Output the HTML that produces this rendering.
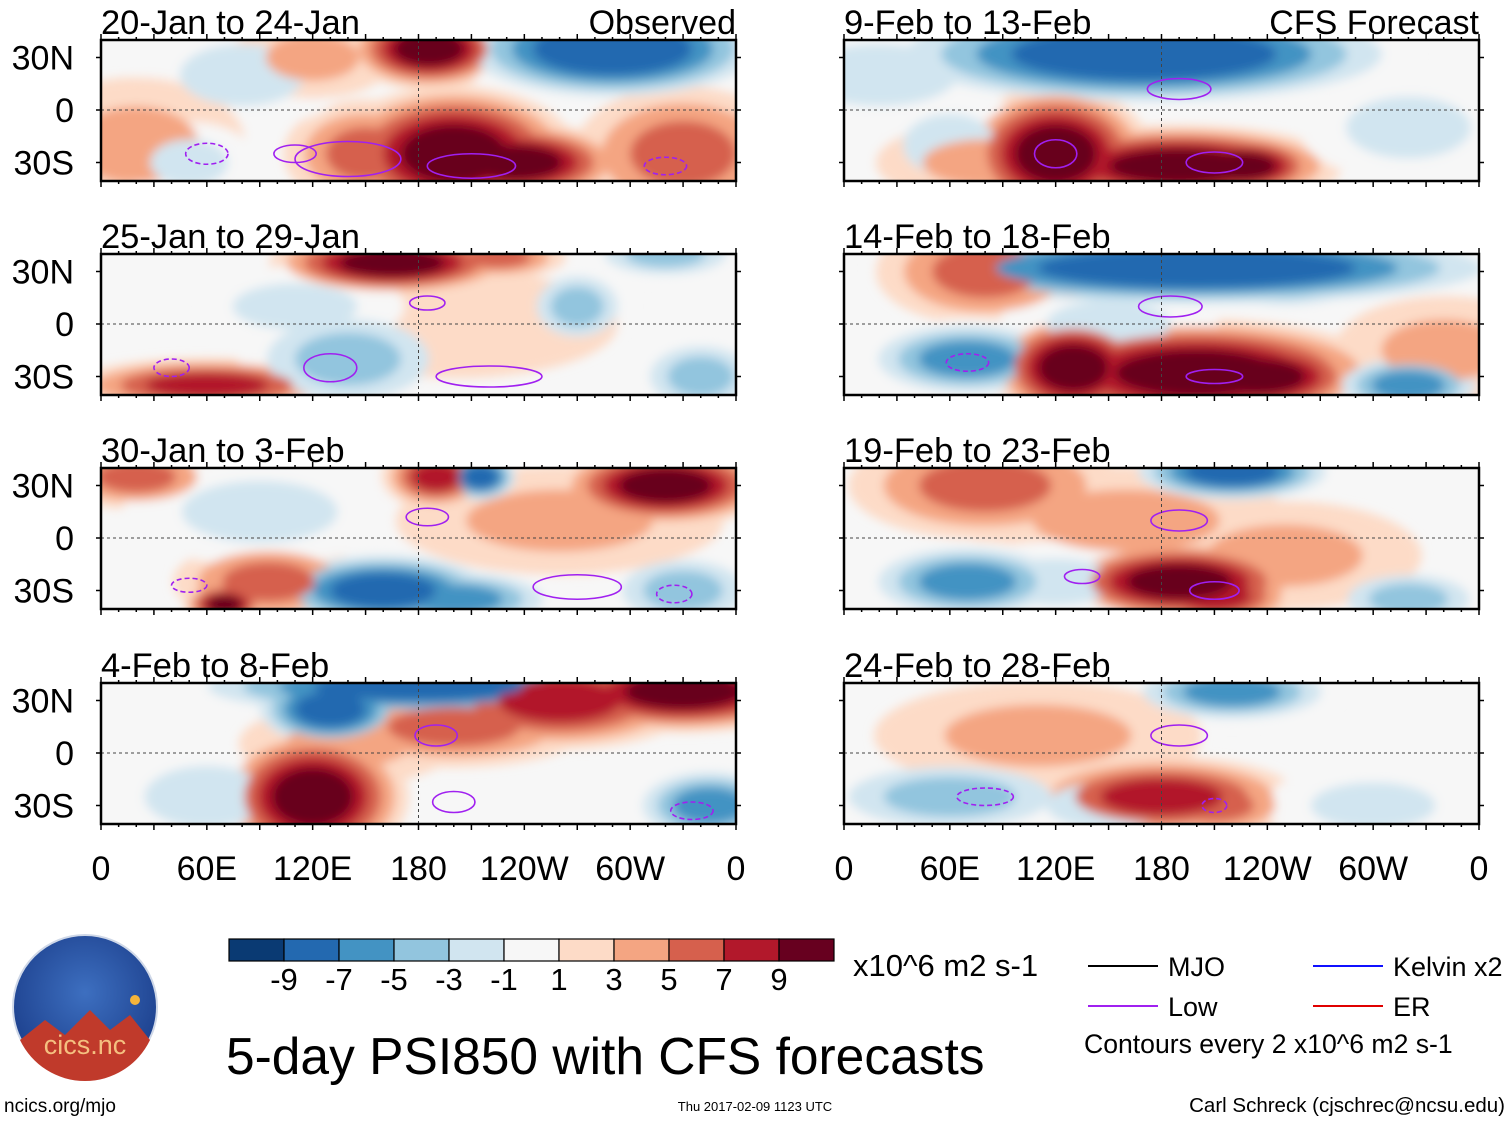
<!DOCTYPE html>
<html><head><meta charset="utf-8">
<style>
body{margin:0;background:#fff;width:1510px;height:1121px;overflow:hidden;font-family:"Liberation Sans",sans-serif}
svg text{font-family:"Liberation Sans",sans-serif}
</style></head>
<body>
<svg id="s" width="1510" height="1121" viewBox="0 0 1510 1121">
<defs>
<filter id="bl" x="-50%" y="-50%" width="200%" height="200%"><feGaussianBlur stdDeviation="5"/></filter>
<radialGradient id="lg" cx="50%" cy="40%" r="60%"><stop offset="0" stop-color="#3d6fc0"/><stop offset="1" stop-color="#1c3f8c"/></radialGradient>
</defs>
</svg>
<script>
// ---- data ----
const panelTitles = ["20-Jan to 24-Jan","25-Jan to 29-Jan","30-Jan to 3-Feb","4-Feb to 8-Feb","9-Feb to 13-Feb","14-Feb to 18-Feb","19-Feb to 23-Feb","24-Feb to 28-Feb"];
const xTickLabels = ["0","60E","120E","180","120W","60W","0"];
const xTickLons = [0,60,120,180,240,300,360];
const yTickLabels = ["30N","0","30S"];
const yTickLats = [30,0,-30];
const cbarLevels = [-11,-9,-7,-5,-3,-1,1,3,5,7,9,11];
const cbarLabels = ["-9","-7","-5","-3","-1","1","3","5","7","9"];
const cbarColors = ["#0a3a73","#2369b0","#4393c3","#92c5de","#d1e5f0","#f7f7f7","#fddbc7","#f4a582","#d6604d","#b2182b","#67001f"];
// anomaly blobs: panel index, lon, lat, value, lon-width, lat-height
const blobPanel = [0,0,0,0,0,0,0,0,0,0,0, 1,1,1,1,1,1,1,1,1, 2,2,2,2,2,2,2,2,2,2,2, 3,3,3,3,3,3,3,3,3, 4,4,4,4,4,4,4,4,4, 5,5,5,5,5,5,5,5,5,5,5, 6,6,6,6,6,6,6,6,6, 7,7,7,7,7,7,7];
const blobLon = [186,290,250,200,235,150,80,330,20,50,120, 165,225,270,320,60,140,340,200,110, 320,215,190,160,200,70,95,20,330,90,260, 180,130,330,260,120,200,345,60,140, 170,250,120,190,225,20,60,320,80, 200,250,80,130,70,130,200,235,320,340,150, 220,80,160,190,210,70,320,120,250, 220,180,210,60,150,110,300];
const blobLat = [35,35,32,-25,-30,-25,20,-25,-20,-30,30, 35,38,10,40,-35,-20,-30,0,10, 30,35,35,-30,-35,-38,-25,35,-30,15,10, 38,25,35,30,-25,15,-30,-25,5, 32,35,-25,-32,-32,20,-20,-10,-30, 32,30,30,30,-20,-25,-28,-30,-35,-15,0, 38,30,10,-25,-33,-25,-35,-25,-10, 35,-25,-30,-25,-30,10,-30];
const blobVal = [9,-10,-5,9,9,5,-3,5,3,-3,3, 9,5,-5,-5,7,-5,-5,2,-3, 9,-9,7,-9,-7,9,5,5,-5,-3,3, -9,-9,9,7,9,5,-7,-3,3, -10,-5,9,9,9,-3,-3,-3,3, -10,-7,5,3,-7,9,9,9,-7,3,-3, -9,5,3,9,7,-7,-5,-3,3, -7,7,5,-5,-3,3,-3];
const blobW = [30,60,30,45,40,30,40,40,40,25,30, 45,25,20,30,50,40,25,60,40, 40,15,20,45,40,15,35,30,30,50,60, 90,30,50,50,35,50,30,40,40, 100,40,35,60,30,50,30,40,40, 120,40,40,30,40,30,70,40,30,40,40, 40,50,60,45,30,40,30,40,50, 40,50,30,50,40,60,40];
const blobH = [15,20,15,25,15,20,20,25,25,15,15, 12,8,15,10,10,20,15,20,15, 15,10,12,15,12,8,15,12,15,20,20, 12,15,15,18,25,15,15,20,15, 20,15,25,15,12,20,20,20,15, 15,15,20,15,15,20,20,15,12,20,15, 12,20,20,15,12,15,12,15,20, 12,15,12,15,15,20,15];
// "Low" purple contours: panel, lon, lat, rx(deg), ry(deg), dashed
const lowPanel = [0,0,0,0,0,1,1,1,1,2,2,2,2,3,3,3,4,4,4,5,5,5,6,6,6,7,7,7];
const lowLon = [140,110,210,60,320,185,40,130,220,185,50,270,325,190,200,335,190,120,210,185,70,210,190,135,210,190,80,210];
const lowLat = [-28,-25,-32,-25,-32,12,-25,-25,-30,12,-27,-28,-32,10,-28,-33,12,-25,-30,10,-22,-30,10,-22,-30,10,-25,-30];
const lowRx = [30,12,25,12,12,10,10,15,30,12,10,25,10,12,12,12,18,12,16,18,12,16,16,10,14,16,16,7];
const lowRy = [10,5,7,6,5,4,5,8,6,5,4,7,5,6,6,5,6,8,6,6,5,4,6,4,5,6,5,4];
const lowDash = [0,0,0,1,1,0,1,0,0,0,1,0,1,0,0,1,0,0,0,0,1,0,0,0,0,0,1,1];

// ---- layout ----
const NS="http://www.w3.org/2000/svg", svg=document.getElementById('s');
function el(t,a,p){const e=document.createElementNS(NS,t);for(const k in a)e.setAttribute(k,a[k]);(p||svg).appendChild(e);return e;}
const colX=[101,844], rowY=[40,254,468,683], PW=635, PH=141;
function color(v){for(let i=0;i<cbarColors.length;i++){if(v<cbarLevels[i+1])return cbarColors[i];}return cbarColors[cbarColors.length-1];}
for(let p=0;p<8;p++){
  const x0=colX[p<4?0:1], y0=rowY[p%4];
  const lx=l=>x0+l/360*PW, ly=l=>y0+70-l/30*52.5;
  const g=el('g',{});
  
  
  el('clipPath',{id:'c'+p},g); el('rect',{x:x0,y:y0,width:PW,height:PH},g.lastChild);
  el('rect',{x:x0,y:y0,width:PW,height:PH,fill:'#f7f7f7'},g);
  const fg=el('g',{'clip-path':'url(#c'+p+')'},g);
  const idx=[];for(let i=0;i<blobPanel.length;i++)if(blobPanel[i]===p)idx.push(i);
  const bg=el('g',{filter:'url(#bl)'},fg);
  for(let k=1;k<=11;k+=2){
    idx.forEach(i=>{
      const v=blobVal[i], a=Math.abs(v), s=Math.sign(v);
      if(a<k) return;
      const f=0.55+1.0*(1-(k-1)/a);
      const e=el('ellipse',{cx:lx(blobLon[i]),cy:ly(blobLat[i]),rx:blobW[i]/360*PW*f,ry:blobH[i]/30*52.5*f,fill:color(s*k)},bg);
      
      
    });
  }
  for(let i=0;i<lowPanel.length;i++){ if(lowPanel[i]!==p)continue;
    const e=el('ellipse',{cx:lx(lowLon[i]),cy:ly(lowLat[i]),rx:lowRx[i]/360*PW,ry:lowRy[i]/30*52.5,fill:'none',stroke:'#a020f0','stroke-width':1.6,'stroke-dasharray':lowDash[i]?'5,3':'none'},fg);
    
    
  }
  el('line',{x1:x0,x2:x0+PW,y1:ly(0),y2:ly(0),stroke:'#444','stroke-dasharray':'3,3','stroke-width':1},g);
  el('line',{x1:lx(180),x2:lx(180),y1:y0,y2:y0+PH,stroke:'#444','stroke-dasharray':'3,3','stroke-width':1},g);
  el('rect',{x:x0,y:y0,width:PW,height:PH,fill:'none',stroke:'#000','stroke-width':2.5},g);
  for(let l=0;l<=360;l+=10){const len=l%30===0?6:3;
    el('line',{x1:lx(l),x2:lx(l),y1:y0,y2:y0-len,stroke:'#000','stroke-width':1.5},g);
    el('line',{x1:lx(l),x2:lx(l),y1:y0+PH,y2:y0+PH+len,stroke:'#000','stroke-width':1.5},g);}
  yTickLats.forEach(l=>{el('line',{x1:x0,x2:x0-5,y1:ly(l),y2:ly(l),stroke:'#000','stroke-width':1.5},g);
    el('line',{x1:x0+PW,x2:x0+PW+5,y1:ly(l),y2:ly(l),stroke:'#000','stroke-width':1.5},g);});
  const t=el('text',{x:x0,y:y0-6,'font-size':34.5},g); t.textContent=panelTitles[p];
   
  if(p===0||p===4){const t2=el('text',{x:x0+PW,y:y0-6,'font-size':34,'text-anchor':'end'},g);t2.textContent=p===0?'Observed':'CFS Forecast';
     }
  if(p<4){yTickLabels.forEach((s,i)=>{const t3=el('text',{x:74,y:ly(yTickLats[i])+12,'font-size':34,'text-anchor':'end'},g);t3.textContent=s;
     });}
  if(p===3||p===7){xTickLons.forEach((l,i)=>{const t4=el('text',{x:lx(l),y:880,'font-size':34,'text-anchor':'middle'},g);t4.textContent=xTickLabels[i];
     });}
}
// colorbar
const cb=el('g',{});
 
const cbx=229, cbw=55;
cbarColors.forEach((c,i)=>{el('rect',{x:cbx+i*cbw,y:939,width:cbw,height:22,fill:c,stroke:'#000','stroke-width':1.2},cb);});
cbarLabels.forEach((s,i)=>{const t=el('text',{x:cbx+(i+1)*cbw,y:990,'font-size':31,'text-anchor':'middle'},cb);t.textContent=s;
   });
function txt(x,y,s,fs,name,anchor){const t=el('text',{x:x,y:y,'font-size':fs,'text-anchor':anchor||'start'});t.textContent=s;
   return t;}
txt(853,976,'x10^6 m2 s-1',31,'colorbar-units');
// legend
const lgItems=[[1088,966,'#000','MJO'],[1088,1006,'#a020f0','Low'],[1313,966,'#1010ff','Kelvin x2'],[1313,1006,'#e00000','ER']];
lgItems.forEach(a=>{const g=el('g',{});
  el('line',{x1:a[0],x2:a[0]+70,y1:a[1],y2:a[1],stroke:a[2],'stroke-width':2},g);
  const t=el('text',{x:a[0]+80,y:a[1]+10,'font-size':27},g);t.textContent=a[3];});
txt(1084,1053,'Contours every 2 x10^6 m2 s-1',26.6,'contour-note');
txt(226,1074,'5-day PSI850 with CFS forecasts',51.5,'figure-title');
txt(4,1112,'ncics.org/mjo',19,'site-url');
txt(755,1111,'Thu 2017-02-09 1123 UTC',13,'timestamp','middle');
txt(1505,1112,'Carl Schreck (cjschrec@ncsu.edu)',20.5,'author-credit','end');
// logo
const lo=el('g',{});  
el('circle',{cx:85,cy:1007,r:72,fill:'url(#lg)',stroke:'#cfd8e8','stroke-width':2},lo);
el('path',{d:'M20 1040 L45 1020 L65 1035 L90 1010 L110 1030 L130 1015 L150 1040 A72 72 0 0 1 20 1040 Z',fill:'#c03a2b'},lo);
el('circle',{cx:135,cy:1000,r:5,fill:'#f5b43a'},lo);
const lt=el('text',{x:85,y:1054,'font-size':27,fill:'#f4c080','text-anchor':'middle'},lo);lt.textContent='cics.nc';
</script>
</body></html>
